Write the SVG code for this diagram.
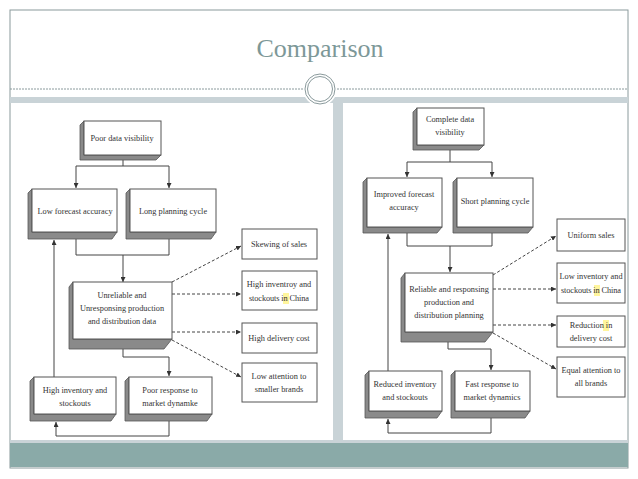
<svg xmlns="http://www.w3.org/2000/svg" width="638" height="479" viewBox="0 0 638 479">
<defs>
<style>
.t{font-family:"Liberation Serif",serif;font-size:8.3px;fill:#333;text-anchor:middle}
.f{fill:#fff;stroke:#555;stroke-width:1}
.s{fill:#8a8a8a;stroke:#555;stroke-width:0.8}
.c{fill:none;stroke:#444;stroke-width:1}
.d{fill:none;stroke:#444;stroke-width:1;stroke-dasharray:3,2}
.hl{fill:#fff59d}
</style>
<marker id="a" viewBox="0 0 6 6" refX="6" refY="3" markerWidth="5" markerHeight="5" orient="auto"><path d="M0,0L6,3L0,6z" fill="#333"/></marker>
</defs>
<rect width="638" height="479" fill="#fff"/>
<rect x="10" y="10" width="618" height="458" fill="none" stroke="#8a9a9c" stroke-width="1"/>
<text x="320" y="57" style="font-family:'Liberation Serif',serif;font-size:26px;fill:#7d9898;text-anchor:middle">Comparison</text>
<line x1="10" y1="89" x2="628" y2="89" stroke="#8a9a9c" stroke-dasharray="2,1"/>
<rect x="10" y="97" width="618" height="6" fill="#c9d3d7"/>
<rect x="333" y="97" width="10" height="345" fill="#c9d3d7"/>
<rect x="10" y="440" width="618" height="3" fill="#c9d3d7"/>
<rect x="10" y="443" width="618" height="24" fill="#8aaaa8"/>
<circle cx="320" cy="89" r="17" fill="#fff"/>
<circle cx="320" cy="89" r="15" fill="#fff" stroke="#8a9a9c" stroke-width="1"/>
<circle cx="320" cy="89" r="12.5" fill="none" stroke="#8a9a9c" stroke-width="1"/>

<g id="connectors">
<path class="c" d="M123,160V166M76,166H169M169,166V188" marker-end="url(#a)"/>
<path class="c" d="M76,166V188" marker-end="url(#a)"/>
<path class="c" d="M76,239V255H169V239M123,255V282" marker-end="url(#a)"/>
<path class="c" d="M123,349V357H169V376" marker-end="url(#a)"/>
<path class="c" d="M169,421V436H56V422" marker-end="url(#a)"/>
<path class="c" d="M54,377V240" marker-end="url(#a)"/>
<path class="d" d="M172,282L241,246" marker-end="url(#a)"/>
<path class="d" d="M172,294H241" marker-end="url(#a)"/>
<path class="d" d="M172,332H241" marker-end="url(#a)"/>
<path class="d" d="M172,340L241,377" marker-end="url(#a)"/>

<path class="c" d="M450,150V162M407,162H492M492,162V177" marker-end="url(#a)"/>
<path class="c" d="M407,162V177" marker-end="url(#a)"/>
<path class="c" d="M407,233V246H492V233M450,246V272" marker-end="url(#a)"/>
<path class="c" d="M448,342V349H491V370" marker-end="url(#a)"/>
<path class="c" d="M491,418V433H388V419" marker-end="url(#a)"/>
<path class="c" d="M388,371V234" marker-end="url(#a)"/>
<path class="d" d="M493,275L556,236" marker-end="url(#a)"/>
<path class="d" d="M493,289H556" marker-end="url(#a)"/>
<path class="d" d="M493,325H556" marker-end="url(#a)"/>
<path class="d" d="M493,333L556,369" marker-end="url(#a)"/>
</g>

<g id="poor"><path class="s" d="M84,121L80,125V160H156L161,155H84Z"/><rect class="f" x="84" y="121" width="77" height="34"/><text class="t" x="122" y="141">Poor data visibility</text></g>
<g id="lowfc"><path class="s" d="M32,189L28,193V239H112L117,232H32Z"/><rect class="f" x="32" y="189" width="85" height="43"/><text class="t" x="75" y="214">Low forecast accuracy</text></g>
<g id="longpc"><path class="s" d="M130,189L126,193V239H211L216,232H130Z"/><rect class="f" x="130" y="189" width="86" height="43"/><text class="t" x="173" y="214">Long planning cycle</text></g>
<g id="unrel"><path class="s" d="M73,282L69,287V349H164L172,339H73Z"/><rect class="f" x="73" y="282" width="99" height="57"/><text class="t" x="122" y="298">Unreliable and</text><text class="t" x="122" y="311">Unresponsing production</text><text class="t" x="122" y="324">and distribution data</text></g>
<g id="highinv"><path class="s" d="M34,377L30,381V421H111L116,414H34Z"/><rect class="f" x="34" y="377" width="82" height="37"/><text class="t" x="75" y="393">High inventory and</text><text class="t" x="75" y="406">stockouts</text></g>
<g id="poorresp"><path class="s" d="M129,377L125,381V421H207L212,414H129Z"/><rect class="f" x="129" y="377" width="83" height="37"/><text class="t" x="170" y="393">Poor response to</text><text class="t" x="170" y="406">market dynamke</text></g>
<g id="skew"><rect class="f" x="242" y="229" width="75" height="30"/><text class="t" x="279" y="247">Skewing of sales</text></g>
<g id="hinvc"><rect class="f" x="242" y="271" width="75" height="39"/><rect class="hl" x="283" y="293" width="6" height="11"/><text class="t" x="279" y="287">High inventroy and</text><text class="t" x="279" y="301" textLength="60">stockouts in China</text></g>
<g id="hdel"><rect class="f" x="242" y="323" width="75" height="30"/><text class="t" x="279" y="341">High delivery cost</text></g>
<g id="lowatt"><rect class="f" x="242" y="363" width="75" height="39"/><text class="t" x="279" y="379">Low attention to</text><text class="t" x="279" y="392">smaller brands</text></g>

<g id="complete"><path class="s" d="M417,108L413,112V150H479L484,145H417Z"/><rect class="f" x="417" y="108" width="67" height="37"/><text class="t" x="450" y="122">Complete data</text><text class="t" x="450" y="135">visibility</text></g>
<g id="impfc"><path class="s" d="M367,178L363,182V233H437L442,227H367Z"/><rect class="f" x="367" y="178" width="75" height="49"/><text class="t" x="404" y="197">Improved forecast</text><text class="t" x="404" y="210">accuracy</text></g>
<g id="shortpc"><path class="s" d="M457,178L453,182V233H528L533,227H457Z"/><rect class="f" x="457" y="178" width="76" height="49"/><text class="t" x="495" y="204">Short planning cycle</text></g>
<g id="reliable"><path class="s" d="M405,273L401,278V342H485L493,332H405Z"/><rect class="f" x="405" y="273" width="88" height="59"/><text class="t" x="449" y="292">Reliable and responsing</text><text class="t" x="449" y="305">production and</text><text class="t" x="449" y="318">distribution planning</text></g>
<g id="redinv"><path class="s" d="M369,371L365,375V418H437L442,411H369Z"/><rect class="f" x="369" y="371" width="73" height="40"/><text class="t" x="405" y="387">Reduced inventory</text><text class="t" x="405" y="400">and stockouts</text></g>
<g id="fastresp"><path class="s" d="M455,371L451,375V418H525L530,411H455Z"/><rect class="f" x="455" y="371" width="75" height="40"/><text class="t" x="492" y="387">Fast response to</text><text class="t" x="492" y="400">market dynamics</text></g>
<g id="uniform"><rect class="f" x="557" y="219" width="68" height="32"/><text class="t" x="591" y="238">Uniform sales</text></g>
<g id="lowinvc"><rect class="f" x="557" y="263" width="68" height="40"/><rect class="hl" x="594" y="285" width="6" height="11"/><text class="t" x="591" y="279">Low inventory and</text><text class="t" x="591" y="293" textLength="60">stockouts in China</text></g>
<g id="reduction"><rect class="f" x="557" y="316" width="68" height="31"/><rect class="hl" x="603" y="320" width="6" height="11"/><text class="t" x="591" y="328">Reduction in</text><text class="t" x="591" y="341">delivery cost</text></g>
<g id="equal"><rect class="f" x="557" y="357" width="68" height="40"/><text class="t" x="591" y="373">Equal attention to</text><text class="t" x="591" y="386">all brands</text></g>
</svg>
